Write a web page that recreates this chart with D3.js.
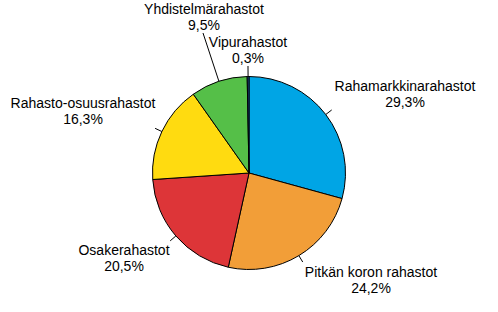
<!DOCTYPE html>
<html>
<head>
<meta charset="UTF-8">
<script src="https://cdn.jsdelivr.net/npm/d3@7"></script>
<style>
body{
    margin:0;
    background:#fff;
}
text{
    font-family: "Liberation Sans", Arial, sans-serif;
    font-size: 14px;
    fill: #000;
}
</style>
</head>
<body>
<script>
// data (clockwise from 12 o'clock)
var categories = ["Rahamarkkinarahastot", "Pitkän koron rahastot", "Osakerahastot",
                  "Rahasto-osuusrahastot", "Yhdistelmärahastot", "Vipurahastot"]
var shares = [29.3, 24.2, 20.5, 16.3, 9.5, 0.3]
var shareLabels = ["29,3%", "24,2%", "20,5%", "16,3%", "9,5%", "0,3%"]
var colors = ["#00a5e5", "#f29e38", "#dd3538", "#ffdb10", "#55bf48", "#1c4f9c"]

// label layout (centre x, first baseline y, end of leader line as radius)
var labelX = [405, 371, 124, 83, 204, 248]
var labelY = [91, 277, 255, 108, 14, 47]
var leaderR = [104, 104, 104, 104, 147, 107]

var width = 498
var height = 312
var cx = 249, cy = 173, radius = 96.5

var svg = d3.select('body')
    .append('svg')
    .attr('width', width)
    .attr('height', height)

var g = svg.append('g')
    .attr('transform', 'translate(' + cx + ',' + cy + ')')

var pie = d3.pie().sort(null).value(function(d){ return d })
var arcs = pie(shares)
var arc = d3.arc().innerRadius(0).outerRadius(radius)

g.selectAll('path.slice')
    .data(arcs)
    .enter()
    .append('path')
    .attr('class', 'slice')
    .attr('d', arc)
    .attr('fill', function(d, i){ return colors[i] })
    .attr('stroke', '#000')
    .attr('stroke-width', 1)
    .attr('stroke-linejoin', 'round')

// leader lines
g.selectAll('line.leader')
    .data(arcs)
    .enter()
    .append('line')
    .attr('class', 'leader')
    .attr('x1', function(d){ return radius * Math.sin((d.startAngle + d.endAngle) / 2) })
    .attr('y1', function(d){ return -radius * Math.cos((d.startAngle + d.endAngle) / 2) })
    .attr('x2', function(d, i){
        var a = (d.startAngle + d.endAngle) / 2
        if (i == 4) return labelX[i] - 1 - cx
        return leaderR[i] * Math.sin(a)
    })
    .attr('y2', function(d, i){
        var a = (d.startAngle + d.endAngle) / 2
        if (i == 4) return 33 - cy
        return -leaderR[i] * Math.cos(a)
    })
    .attr('stroke', '#000')
    .attr('stroke-width', 1)

var labels = svg.selectAll('text.lab')
    .data(categories)
    .enter()
    .append('text')
    .attr('class', 'lab')
    .attr('text-anchor', 'middle')
    .attr('x', function(d, i){ return labelX[i] })
    .attr('y', function(d, i){ return labelY[i] })

labels.append('tspan')
    .attr('x', function(d, i){ return labelX[i] })
    .text(function(d){ return d })

labels.append('tspan')
    .attr('x', function(d, i){ return labelX[i] })
    .attr('dy', 15.5)
    .text(function(d, i){ return shareLabels[i] })
</script>
</body>
</html>
